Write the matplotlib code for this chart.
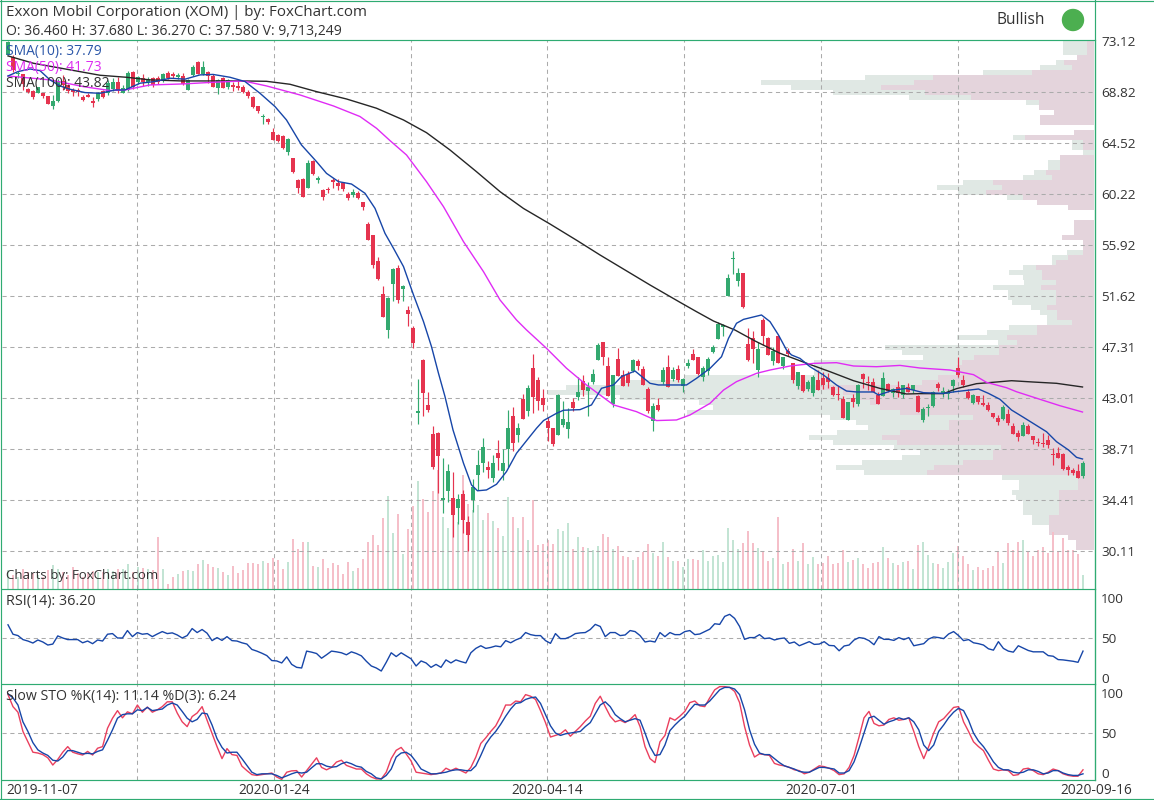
import numpy as np
import matplotlib
matplotlib.use('Agg')
from matplotlib import pyplot as plt
from matplotlib import patches as pch
from matplotlib.lines import Line2D
from matplotlib.transforms import IdentityTransform

plt.rcParams['font.family'] = ['Open Sans', 'DejaVu Sans']

# candles (one per trading day)
opens = [71.94,71.8,70.3,70.34,69.1,68.94,68.77,68.74,68.49,67.67,
         68.07,69.78,69.41,68.99,68.94,68.43,68.57,68.09,68.21,68.94,
         68.71,69.06,69.7,68.77,68.99,70.54,69.64,69.98,69.7,69.98,
         70.0,69.84,70.45,70.34,70.06,70.17,68.99,70.26,71.38,70.34,
         70.54,70.17,69.19,69.98,69.22,69.41,69.33,69.27,68.85,68.4,
         67.64,66.7,66.52,65.45,65.2,65.14,63.77,63.26,61.4,61.49,
         60.76,63.04,61.43,60.56,60.64,61.4,61.12,61.18,60.2,60.14,
         60.28,59.52,57.69,56.77,54.57,51.79,48.76,52.63,53.96,52.24,
         50.44,48.9,41.79,46.23,42.44,39.99,40.08,34.46,35.19,34.6,
         33.78,34.93,32.6,34.43,36.54,37.58,37.18,36.31,38.39,36.87,
         38.73,41.51,39.91,42.94,41.93,45.56,44.54,43.03,41.09,40.5,
         39.91,40.75,40.41,42.69,43.11,44.46,43.62,44.38,46.23,47.75,
         45.73,42.52,46.32,44.97,45.05,45.3,46.15,45.47,43.79,41.09,
         42.44,44.38,45.64,44.63,45.47,44.04,45.75,46.74,46.48,44.79,
         45.3,46.93,47.99,48.98,51.65,54.74,52.88,53.56,47.57,48.08,
         45.38,49.6,48.08,46.14,48.25,45.72,46.98,45.97,44.03,44.96,
         43.78,43.44,44.54,44.71,44.71,43.95,43.4,42.94,41.17,43.02,
         42.51,45.04,44.37,44.37,43.27,43.19,44.2,43.44,43.95,43.27,
         43.95,43.69,43.19,41.17,42.15,42.35,44.2,43.36,43.36,44.06,
         45.52,44.54,43.55,42.57,43.19,42.63,42.43,41.78,41.36,41.25,
         41.67,40.66,40.04,39.82,40.66,39.82,39.31,39.26,39.48,38.3,
         38.36,38.3,37.18,36.95,36.87,36.46]
closes = [73.07,70.68,70.4,69.5,68.8,68.43,69.2,68.49,67.81,68.07,
          69.75,69.41,68.91,68.8,68.85,68.15,68.43,67.93,68.71,68.43,
          69.56,69.64,68.99,69.13,70.4,69.22,70.06,69.7,69.9,69.41,
          69.7,70.34,69.98,70.2,70.26,69.5,69.84,70.96,70.34,70.96,
          70.2,69.27,69.84,69.19,69.84,69.27,69.13,68.85,68.49,67.59,
          67.22,66.72,66.3,64.78,64.72,64.08,64.86,62.11,60.7,60.0,
          62.81,61.91,61.49,60.0,60.56,61.26,60.93,60.62,59.86,60.37,
          59.86,59.1,56.34,54.24,53.03,49.88,51.43,53.9,51.29,52.47,
          50.1,47.69,41.93,43.48,42.02,37.24,38.17,34.5,36.87,33.16,
          34.51,32.74,31.48,35.5,37.38,38.87,36.96,37.52,37.97,37.52,
          40.5,39.26,40.5,41.26,43.87,43.11,42.77,42.44,40.5,39.15,
          43.28,41.26,41.0,42.18,43.53,43.7,43.96,45.05,47.5,46.51,
          43.2,44.97,44.88,44.04,44.29,46.23,45.75,44.12,41.93,42.35,
          42.02,45.39,43.95,45.39,44.54,44.63,45.98,46.23,45.05,45.55,
          46.31,47.35,49.3,49.17,53.16,54.82,53.56,50.66,46.22,47.15,
          47.15,48.25,46.65,46.98,45.97,46.48,46.73,44.54,45.21,43.61,
          44.37,44.79,43.69,44.12,44.37,43.27,43.3,41.33,42.68,42.68,
          44.12,44.62,44.29,43.53,42.51,44.71,43.61,43.78,43.44,44.12,
          43.53,44.12,41.84,42.09,42.23,43.5,43.84,43.64,43.53,44.54,
          44.96,44.12,42.99,43.27,42.71,42.43,42.01,41.39,41.03,42.23,
          40.94,39.99,39.76,40.74,39.99,39.48,39.2,39.11,39.03,38.24,
          37.99,37.03,36.95,36.67,36.3,37.58]
highs = [73.1,71.94,70.6,70.34,69.15,69.0,69.25,68.77,68.52,68.57,
         69.9,70.26,69.5,69.13,69.13,68.57,68.71,68.38,68.8,69.0,
         69.85,70.0,70.12,69.4,70.55,70.6,70.2,70.34,70.1,70.06,
         70.2,70.4,70.6,70.54,70.4,70.45,69.9,71.1,71.43,71.44,
         70.62,70.3,69.9,70.06,69.95,69.7,69.84,69.41,68.99,68.46,
         67.68,66.97,66.66,65.76,65.3,65.2,64.95,63.26,61.5,61.6,
         63.1,63.1,61.74,60.6,60.84,61.6,61.49,61.26,60.4,60.62,
         60.5,59.55,57.89,56.8,54.94,52.47,51.5,53.95,54.24,52.55,
         50.78,49.1,44.6,46.28,43.53,40.67,40.19,37.94,37.46,36.8,
         34.93,35.27,33.1,36.2,38.64,39.63,37.72,38.22,39.49,38.73,
         42.0,42.24,40.89,43.36,44.12,46.74,44.83,43.76,41.4,40.5,
         43.35,42.8,42.15,43.0,44.83,44.97,44.38,45.47,47.64,47.75,
         46.46,45.0,47.24,45.39,45.33,46.35,46.32,45.73,43.98,42.58,
         43.0,45.64,46.65,45.61,45.81,44.69,46.32,47.16,46.48,45.72,
         46.48,47.46,49.4,49.26,53.47,55.41,53.95,53.56,48.89,48.67,
         47.77,49.76,48.16,47.35,48.33,46.48,47.21,45.97,45.21,44.96,
         44.54,44.96,45.38,45.21,45.1,44.03,44.0,43.19,42.68,43.36,
         44.2,45.13,44.87,44.71,43.53,45.21,44.25,43.86,44.45,44.12,
         44.29,44.12,43.25,42.29,42.49,43.6,44.4,43.92,43.75,44.62,
         46.45,44.96,43.75,43.33,43.19,43.27,42.66,41.78,41.59,42.43,
         42.06,40.88,40.32,41.02,40.8,39.82,39.62,40.04,39.9,38.83,
         38.86,38.36,37.34,37.09,37.46,37.68]
lows = [71.9,70.54,70.0,69.0,68.7,68.2,68.7,68.32,67.8,67.39,
        68.0,68.99,68.71,68.49,68.49,68.07,68.38,67.53,68.1,68.3,
        68.6,68.9,68.71,68.7,68.9,69.1,69.5,69.33,69.3,69.27,
        69.5,69.7,69.9,69.98,69.9,69.41,68.95,70.2,70.3,70.26,
        69.55,69.2,68.66,69.15,69.1,68.94,68.99,68.77,68.35,67.5,
        67.03,66.13,66.13,64.78,64.6,64.0,63.5,62.0,60.34,59.99,
        60.7,61.8,61.12,59.7,60.28,60.7,60.56,60.5,59.72,59.94,
        59.8,58.87,56.3,54.0,52.95,49.85,48.08,51.2,51.06,51.2,
        49.1,47.24,40.84,41.51,41.87,37.07,35.05,33.36,34.29,31.34,
        32.4,31.68,30.16,33.44,35.27,36.79,36.28,35.95,36.96,36.11,
        37.24,38.59,39.35,41.26,41.51,41.76,42.0,41.93,39.4,38.98,
        39.91,40.55,39.66,41.93,42.86,43.2,41.51,44.21,46.2,45.81,
        43.2,42.27,44.88,44.0,44.04,45.25,45.39,44.12,41.73,40.25,
        41.93,44.21,43.95,44.49,44.4,43.53,45.53,46.23,44.97,44.45,
        44.96,46.79,47.99,48.25,51.65,53.47,52.46,50.6,46.14,45.97,
        44.82,47.49,46.65,45.8,45.97,45.47,46.56,44.26,43.78,43.53,
        43.61,43.19,43.69,43.78,43.86,43.19,42.86,41.33,41.17,42.29,
        42.35,43.86,43.69,43.53,42.51,43.19,43.53,43.1,43.1,43.02,
        43.53,43.44,41.84,41.03,41.5,42.3,43.64,43.13,42.91,43.55,
        44.82,43.92,42.91,42.51,42.51,42.37,41.95,41.36,40.74,41.17,
        40.74,39.99,39.42,39.82,39.96,39.11,38.97,38.92,38.78,37.37,
        37.99,36.98,36.53,36.53,36.3,36.27]
# volume in millions
volumes = [13.2,9.7,8.5,13.9,11.6,10.9,9.7,8.5,13.2,16.6,
           13.9,11.6,9.7,15.5,10.9,8.5,11.3,12.7,12,12,
           13.9,12.5,13.9,13.9,17.3,12,15.2,14.6,13.9,13.2,
           36,13.9,3.5,8.3,10.4,12.5,13.2,12.5,17.3,20.1,
           17.3,15.2,14.6,11.8,9.7,15.9,11.1,13.2,18,18,
           17.3,19.4,18,21.5,20.1,13.9,18.7,34.7,27.7,32.6,
           32.6,15.9,15.2,20.8,14.6,18,16.6,10.4,18.7,12.5,
           14.6,20.8,32.6,37.4,30.5,49.2,64.4,38.8,52,24.5,
           41.8,57.8,75,62.6,53.6,68.1,82.7,50.1,42.5,51.5,
           46.7,79.2,59.1,55,58.4,48,52.9,47.4,42.5,37,
           64,50.1,42.5,50.1,34.2,61.9,30.7,31.4,34.2,31.4,
           41.8,40.4,46,28,36.3,29.3,28.6,27.3,30,38.3,
           36.3,28,30,23.1,22.4,20.3,22.4,25.9,31.4,25.2,
           23.1,32.8,22.4,19.6,19.6,15.5,21,21,20.3,27,
           19.4,22.9,23.6,18.7,42.3,34,27.7,31.9,40.2,31.9,
           28.4,26.3,19.4,21.5,49.9,17.3,18.7,27.7,19.4,31.9,
           17.3,22.2,17.3,18,22.9,17.3,18,27,18.7,20.1,
           21.5,17.3,14.6,18,18.7,29.1,21.5,18,16.6,18.7,
           19.6,14.1,30.7,32.8,23.8,18.2,17.6,14.8,18.9,25.2,
           30,23.1,17.6,13.4,15.5,13.4,14.8,16.2,25.9,18.2,
           32.1,27.3,32.8,34.2,25.9,23.1,27.3,29.3,25.2,39.7,
           26.6,35.6,27.3,27.3,24.5,9.7]

# moving averages as (bar, price) points
sma10 = [(0,70.17),(2,70.54),(4.4,70.76),(6.4,70.62),(8.4,69.84),(10.4,69.33),(12.4,69.05),(15.4,68.77),
         (18.4,68.71),(21.4,68.99),(23.4,68.99),(26.4,69.56),(29.4,69.7),(32.4,69.98),(35.4,69.9),(38.4,70.26),
         (41,70.3),(44.4,70.06),(47.4,69.7),(50.4,68.71),(53.4,67.59),(55.7,66.46),(58.7,64.35),(61.7,62.95),
         (63.7,61.96),(66.1,61.26),(68.7,61.06),(71.4,60.28),(73.4,59.01),(75.4,56.9),(77.1,55.64),(79.1,54.1),
         (81.1,51.71),(83.1,49.46),(84.7,47.35),(86.1,45.1),(87.4,43.14),(89,40.33),(91.1,37.52),(92.7,35.69),
         (93.9,35.2),(95.7,35.27),(97.7,35.75),(99.7,36.82),(101.7,38.36),(104.1,39.63),(105.7,40.47),(107.1,41.12),
         (109.7,41.73),(111.1,41.99),(114.4,42.04),(116.7,42.44),(118.7,43.84),(121.1,44.12),(122.7,44.83),(125.4,45.3),
         (128.4,44.26),(130.1,44.12),(132.4,44.12),(135.7,44.12),(137.7,44.68),(140.4,45.52),(142.7,46.5),(144.1,48.05),
         (145.7,49.32),(147.1,49.65),(150.7,50.02),(152.4,49.46),(154.1,48.33),(155.7,47.07),(156.7,46.65),(158.4,46.36),
         (160.4,45.66),(163.1,44.96),(165.7,44.12),(167.7,43.61),(169.7,43.53),(173.1,43.53),(174.1,43.27),(177.1,43.69),
         (179.7,43.83),(183.1,43.47),(187.1,43.41),(189.4,43.55),(194.1,43.78),(196.1,43.41),(198.4,42.91),(200.7,42.01),
         (203.1,41.39),(207.7,40.18),(209.7,39.34),(212.1,38.64),(213.7,38.02),(214.9,37.88)]
sma50 = [(0,70.17),(8.4,69.84),(15.1,69.27),(20.4,68.94),(23.4,68.99),(28.4,69.41),(35.1,69.5),(41.1,69.64),
         (47.1,69.75),(51.7,69.33),(58.4,68.57),(65.1,67.64),(70.4,66.75),(73.7,65.76),(76.4,64.72),(79.7,63.51),
         (83.7,61.26),(87.1,59.15),(91.1,56.2),(95.1,53.67),(98.4,51.29),(101.7,49.6),(103.7,48.76),(107.7,47.21),
         (111.7,45.53),(115.7,44.12),(121.1,42.44),(125.7,41.87),(129.7,41.12),(133.7,41.17),(136.4,41.59),(140.4,42.57),
         (143.1,43.69),(145.7,44.4),(149.7,45.1),(152.4,45.38),(156.4,45.72),(161.1,45.94),(165.7,46.0),(169.1,45.72),
         (173.7,45.66),(178.4,45.77),(182.4,45.55),(188.4,45.38),(191.1,45.16),(193.1,44.99),(195.7,44.34),(199.7,43.89),
         (201.7,43.55),(206.4,42.91),(210.4,42.37),(214.9,41.84)]
sma100 = [(0,71.86),(5.1,71.24),(11.7,70.74),(18.4,70.23),(23.7,70.06),(28.4,69.84),(34.7,69.75),(41.1,69.75),
          (47.1,69.75),(51.7,69.72),(56.4,69.47),(61.7,68.85),(67.7,68.23),(73.7,67.45),(79.1,66.46),(83.7,65.39),
          (88.4,63.93),(93.7,62.1),(98.4,60.42),(103.1,59.0),(108.4,57.69),(113.8,56.3),(118.4,55.08),(128.4,52.55),
          (134.4,51.09),(137.7,50.3),(141.1,49.51),(145.4,48.75),(149.4,47.83),(154.4,46.79),(159.4,46.0),(164.4,45.24),
          (169.1,44.48),(174.4,43.83),(179.7,43.36),(182.4,43.39),(187.1,43.39),(189.7,43.81),(193.7,44.23),(197.7,44.37),
          (200.7,44.48),(205,44.37),(209.7,44.26),(214.9,43.95)]

rsi = [66.5,54.7,53,48,46.2,43.7,47.5,45,41.2,42.4,52.6,50,48,48,48,44,46.2,42.9,47.5,46.2,
       54.7,55.5,50,50,59.3,51.7,56.8,54.7,55.5,51.7,55,58,55.5,56.4,53.8,50,53,61.8,56.8,60.6,
       56,46.7,50.5,47,51.7,46.7,46.2,44,42.4,35.7,33.6,31,28,21.8,21.3,18.8,26.4,17,13.3,12.5,
       33.6,32.3,30.6,24.7,29,33.6,32.7,31.5,29,32.7,30.6,27.7,20.9,15,12.5,8.7,19.6,31.5,26.8,31.5,
       27.7,23.9,15,21.3,18.8,13.3,17,13.3,22.6,18.8,22.6,20.5,18.8,31.5,37,40.3,37,38.2,40,39,
       46.7,44,47.5,50,56.8,54.2,53,53,46.7,43.3,55.5,49.2,49.2,51.7,55.5,56.4,56.8,60.6,67,64.4,
       51.7,56.8,56.8,53,53.8,59.3,58,53,45,46.2,45,56.8,51.7,56.8,54.2,54.2,58,59.3,54.2,55,
       58,61,67.8,67,77,79.6,74.5,64.4,48.3,50.5,50.5,54.2,49.2,50,47.5,49.2,50,43.3,45,40.3,
       42.9,45.4,42,42.4,45.4,40.7,40.3,34,40,41.2,47.5,50.5,49.6,46.7,41.6,51.7,48.3,48.3,47,50.5,
       48,50.5,40.3,41.6,42.9,48.8,51.3,50.5,49.2,55,58,53,46.7,48,44,42.9,41.2,36.5,34.8,45.4,
       37,33.6,32.3,40.3,37.4,34.4,32.7,32.7,32.7,28,27.2,23,22.6,21.8,20.9,19.6,33.6]
sto_k = [98,83,76,52,39,26,25,23,19,10,17,26,33,26,24,22.5,27,22.5,31,33,
         56,68.5,78,69,76.5,74,85,76,82.5,76,79,83,89,89,75,64,58,70.6,75,83,
         66,49.5,33,18,30.5,23,22,8.6,3,-2,-3,-2,-1,0,-5,-8,1,2.7,3,-5,
         3,11,19,7,4,7,13.7,16,9.5,7.3,5,5,-1,-5,-7.4,-7.4,1,18,28.4,32,
         24,15,1,0,-1,-2,-1,0,6,3,6,3,0,7,20,37,44,52,59,71,
         85,85,90,89,98,96,92,78,63,45,47,49,54,46,52,58,65,71,87,96,
         83,71,64,66,63,67,73,58,33,18,13,39,47,69,66,71,77,88,90,84,
         83,94,104,108,108,107,102,88,58,35,20,24,23,22,12,10,9,7,4,3,
         -1,1,5,9,8,6,3,-2,-1,7,22,45,69,77,62,59,60,67,69,66,
         67,69,52,33,18,33,50,64,68,75,82,83,64,52,39,33,28,16,5,3,
         4,3,-3,-2,5,6,3,-1,-2,1,5,3,-1,-3,-4,-4,4]
sto_d = [99,94,85,64,52,38,29,25,22,16,15,20,28,28,26,24,24.6,24,27,29,
         41,54,68.5,73,74,74,79,78,82,78,79,80,85,87.5,85,77,68.5,64,67,75,
         74,60,43,32,25,26,26,18,9.5,1,-2,-1,-1,-1,-3,-6,-3.6,-1,1,0,
         1,6.5,11.6,11.6,8.6,7.3,8,11.6,13.7,11.6,8.6,7.3,2,-1,-6,-7.4,-3,5,20,25,
         26,22,14,5,2,-1,-1,0,1,3,4,4,3,3,9,22,36,45,52,61,
         71,80,87,88,92,94,95,87,73,59,50,47,49,50,51,52,58,63,74,85,
         89,83,73,68,64,66,68,66,50,33,22,23,35,53,60,66,71,79,86,85,
         85,90,97,104,107,107,105,98,79,54,36,25,23,23,18,13,9,7,5,2,
         1,1,4,7,7,6,5,0,0,3,14,31,50,69,71,66,61,64,66,69,
         67,69,64,54,35,28,35,52,60,69,76,81,78,66,50,40,33,24,14,7,
         4,4,1,0,1,4,4,2,-1,0,3,3,0,-2,-3,-3,-1]

# volume profile, top row first: whole row and the falling part of it
prof_total = [31,31,31,17,38,54,111,229,333,303,261,185,68,55,40,54,54,0,20,81,
              22,22,11,34,46,46,60,71,131,157,136,87,57,26,0,0,20,20,20,32,
              11,11,27,42,42,71,85,71,70,101,86,86,82,63,54,47,47,85,107,137,
              96,209,192,171,280,280,280,409,474,528,547,474,395,381,407,264,238,226,257,285,
              261,200,174,192,232,258,230,92,75,75,82,78,71,71,71,62,62,45,45,26,18,18]
prof_down = [7,7,7,17,30,22,62,161,180,213,169,123,55,55,40,54,54,0,20,69,
             11,11,0,34,34,34,48,42,101,92,108,71,57,26,0,0,20,20,20,32,
             11,11,11,26,38,58,52,52,38,53,38,38,38,47,37,37,22,57,57,87,
             77,95,95,120,132,137,137,156,172,297,251,237,224,214,194,121,145,145,194,212,
             197,93,101,101,131,160,167,16,16,16,35,35,35,35,35,45,45,45,45,26,18,18]

price_ticks = [73.12,68.82,64.52,60.22,55.92,51.62,47.31,43.01,38.71,34.41,30.11]
date_grid = [25.9,53.3,80.6,107.9,135.3,162.6,190]
date_labels = ['2020-01-24','2020-04-14','2020-07-01']
date_label_pos = [53.3,107.9,162.6]

UP, DOWN = '#33a96f', '#e5344f'
FRAME = '#2fab72'
GRID = '#ababab'
BLUE, MAGENTA, DARK = '#1746a8', '#e02cf5', '#262626'
TXT = '#333333'
W, H = 1154, 800
L, R = 1.5, 1095
DASH = (0, (4, 3.5))

fig = plt.figure(figsize=(W/100, H/100), dpi=100)

def panel(top, bottom):
    a = fig.add_axes([L/W, 1-bottom/H, (R-L)/W, (bottom-top)/H])
    a.set_xlim(-1.3, 217.4)
    return a

axp = panel(40.5, 589)
axv = panel(40.5, 589)
ax = panel(40.5, 589)
ax1 = panel(589, 684.3)
ax2 = panel(684.3, 780.3)
axp.set_zorder(1); axv.set_zorder(2); ax.set_zorder(3)
ax1.set_zorder(3); ax2.set_zorder(3)

ylim = (26.92, 73.16)

# volume profile
bin_h = 5*0.0843
levels = 73.12 + 0.0843 - bin_h*(np.arange(len(prof_total))+0.5)
axp.barh(levels, prof_total, height=bin_h, color='#e0e8e4', linewidth=0)
axp.barh(levels, prof_down, height=bin_h, color='#e4d4dc', linewidth=0)
axp.set_xlim(1093.5, -1)
axp.set_ylim(ylim)
axp.axis('off')

# volume bars
x = np.arange(len(closes))
o, h, l, c = map(np.array, (opens, highs, lows, closes))
up = c >= o
axv.bar(x, volumes, width=0.5, color=np.where(up, '#c3e4d4', '#f5bfc9'), linewidth=0)
axv.set_ylim(0, 380)
axv.axis('off')

# candles
ax.patch.set_visible(False)
ax.vlines(x, l, h, color=np.where(up, UP, DOWN), linewidth=0.85, zorder=3)
body = np.maximum(np.abs(c-o), 0.1)
ax.bar(x, body, bottom=np.minimum(o, c), width=0.8, color=np.where(up, UP, DOWN), linewidth=0, zorder=3)
for pts, col in ((sma100, DARK), (sma50, MAGENTA), (sma10, BLUE)):
    p = np.array(pts)
    ax.plot(p[:, 0], p[:, 1], color=col, linewidth=1.0, zorder=4)
ax.set_ylim(ylim)
ax.set_yticks(price_ticks)
ax.set_yticklabels(['%.2f' % v for v in price_ticks])

# indicators are sampled a touch finer than the bars, so spread over the same span
xi = np.linspace(0, 215, len(rsi))
ax1.patch.set_visible(False)
ax1.plot(xi, rsi, color=BLUE, linewidth=1.0)
ax1.set_ylim(-7.9, 111.25)
ax1.set_yticks([0, 50, 100])
ax2.patch.set_visible(False)
ax2.plot(xi, sto_k, color='#ea3f5e', linewidth=1.0)
ax2.plot(xi, sto_d, color=BLUE, linewidth=1.0)
ax2.set_ylim(-9.1, 110.9)
ax2.set_yticks([0, 50, 100])

for a in (ax, ax1, ax2):
    a.set_xticks(date_grid)
    a.tick_params(axis='x', length=0, labelbottom=False)
    a.yaxis.tick_right()
    a.tick_params(axis='y', length=0, labelsize=9.7, labelcolor=TXT, pad=4.5)
    a.set_axisbelow(True)
    a.grid(True, color=GRID, linewidth=0.75, linestyle=DASH)
    for s in a.spines.values():
        s.set_color(FRAME)
        s.set_linewidth(0.85)
    a.spines['bottom'].set_visible(False)
    a.spines['left'].set_visible(False)
ax.get_ygridlines()[0].set_visible(False)
ax1.yaxis.grid(False); ax2.yaxis.grid(False)
ax1.axhline(50, color=GRID, linewidth=0.75, linestyle=DASH, zorder=0)
ax2.axhline(50, color=GRID, linewidth=0.75, linestyle=DASH, zorder=0)
ax2.spines['bottom'].set_visible(True)

# frame round the whole picture
def px_line(x0, y0, x1, y1):
    fig.add_artist(Line2D([x0/W, x1/W], [1-y0/H, 1-y1/H], color=FRAME, linewidth=0.85))

px_line(0, 0.5, W, 0.5)
px_line(0, 799.4, W, 799.4)
px_line(0.8, 0, 0.8, H)
px_line(R, 0, R, 780.3)

def label(px, py, s, size=10.3, col=TXT, ha='left'):
    fig.text(px/W, 1-py/H, s, fontsize=size, color=col, ha=ha, va='center', zorder=10)

label(6, 13, 'Exxon Mobil Corporation (XOM) | by: FoxChart.com', 10.9)
label(6, 31.5, 'O: 36.460 H: 37.680 L: 36.270 C: 37.580 V: 9,713,249', 10.1)
label(6, 51.5, 'SMA(10): 37.79', 10.0, '#2a56a8')
label(6, 67, 'SMA(50): 41.73', 10.0, '#dd2cf0')
label(6, 83, 'SMA(100): 43.82', 10.0, '#333333')
label(6, 575.5, 'Charts by: FoxChart.com', 9.5)
label(6, 601.5, 'RSI(14): 36.20', 10.4)
label(6, 696.5, 'Slow STO %K(14): 11.14 %D(3): 6.24', 10.2)
label(997, 20.5, 'Bullish', 11.2)
fig.add_artist(pch.Circle((1073, H-20), 10.5, color='#4caf50', transform=IdentityTransform()))

label(6, 790.5, '2019-11-07', 9.9)
label(1132, 790.5, '2020-09-16', 9.9, ha='right')
for pos, s in zip(date_label_pos, date_labels):
    fig.text((8+5*pos)/W, 1-790.5/H, s, fontsize=9.9, color=TXT, ha='center', va='center')

fig.savefig('out.png', dpi=100)
